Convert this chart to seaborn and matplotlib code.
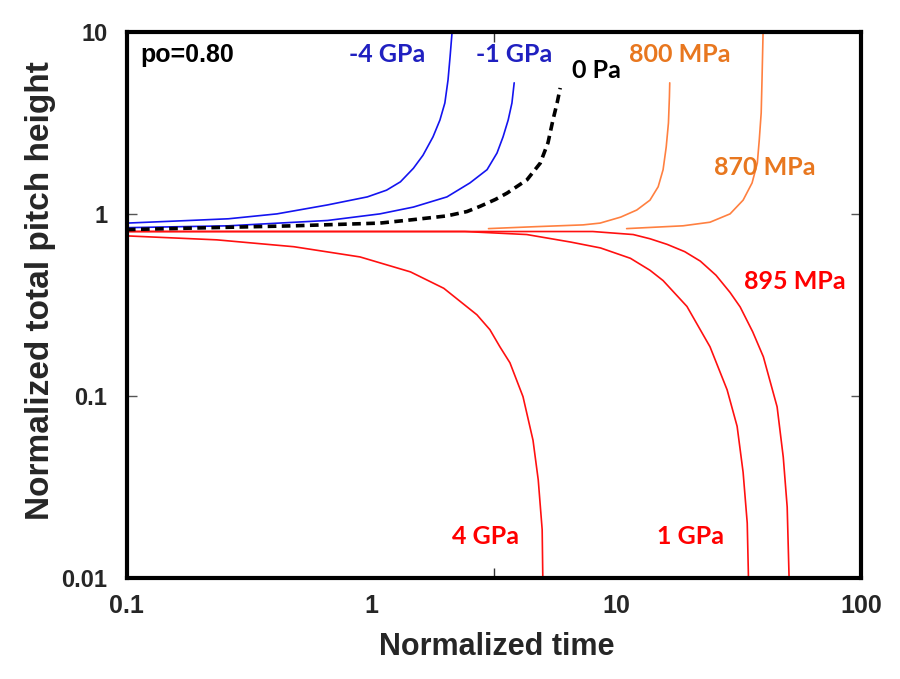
import matplotlib
matplotlib.use("Agg")
import matplotlib.pyplot as plt
import matplotlib.ticker as mticker
import seaborn as sns

# values: normalized time vs normalized total pitch height
neg4_t = [0.1, 0.18, 0.26, 0.41, 0.66, 0.96, 1.15, 1.31, 1.48, 1.62, 1.78, 1.90, 1.99, 2.05, 2.09, 2.13]
neg4_h = [0.89, 0.92, 0.94, 1.0, 1.12, 1.24, 1.35, 1.50, 1.78, 2.1, 2.65, 3.28, 4.07, 5.44, 7.3, 10.0]

neg1_t = [0.1, 0.26, 0.66, 1.08, 1.48, 2.03, 2.52, 2.96, 3.25, 3.44, 3.61, 3.74, 3.82]
neg1_h = [0.84, 0.86, 0.92, 1.0, 1.09, 1.24, 1.48, 1.75, 2.16, 2.65, 3.28, 4.07, 5.25]

zero_t = [0.1, 0.48, 1.08, 1.48, 2.03, 2.45, 2.77, 3.2, 3.57, 4.31, 4.88, 5.25, 5.5, 5.72, 5.89]
zero_h = [0.82, 0.86, 0.89, 0.93, 0.975, 1.03, 1.10, 1.20, 1.30, 1.54, 1.9, 2.46, 3.28, 4.07, 4.92]

p800_t = [3.0, 4.6, 7.3, 8.57, 10.4, 12.1, 13.7, 14.8, 15.5, 15.96, 16.3, 16.45, 16.5]
p800_h = [0.83, 0.85, 0.87, 0.89, 0.96, 1.05, 1.19, 1.41, 1.75, 2.33, 3.16, 4.4, 5.25]

p870_t = [11.0, 18.7, 24.1, 29.1, 32.9, 35.8, 37.6, 38.3, 39.0, 39.3, 39.7]
p870_h = [0.83, 0.86, 0.90, 1.0, 1.19, 1.48, 1.9, 2.55, 3.59, 5.44, 10.0]

p895_t = [0.1, 8.0, 11.7, 13.7, 16.1, 19.0, 22.0, 25.5, 29.1, 32.0, 36.0, 39.8, 45.3, 48.0, 49.8, 50.7]
p895_h = [0.80, 0.80, 0.77, 0.73, 0.68, 0.62, 0.55, 0.46, 0.37, 0.308, 0.225, 0.164, 0.087, 0.046, 0.0245, 0.01]

p1000_t = [0.1, 2.4, 4.3, 6.5, 8.6, 11.4, 13.7, 15.5, 19.4, 24.1, 28.3, 31.1, 32.9, 34.2, 34.6]
p1000_h = [0.80, 0.80, 0.77, 0.70, 0.65, 0.57, 0.49, 0.43, 0.31, 0.186, 0.108, 0.068, 0.038, 0.020, 0.01]

p4000_t = [0.1, 0.233, 0.481, 0.896, 1.44, 1.97, 2.69, 3.04, 3.34, 3.67, 4.15, 4.56, 4.79, 4.97, 5.0]
p4000_h = [0.757, 0.72, 0.66, 0.58, 0.48, 0.39, 0.279, 0.231, 0.186, 0.152, 0.099, 0.057, 0.0345, 0.0184, 0.01]

x_ticks = [0.1, 1, 10, 100]
x_ticklabels = ["0.1", "1", "10", "100"]
y_ticks = [0.01, 0.1, 1, 10]
y_ticklabels = ["0.01", "0.1", "1", "10"]

BLUE = "#1414f0"
ORANGE = "#ff8040"
RED = "#ff1010"

sns.set_style("white")
plt.rcParams["font.family"] = ["Liberation Sans", "DejaVu Sans"]

fig = plt.figure(figsize=(9, 6.79), dpi=100)
ax = fig.add_axes([0.141, 0.149, 0.816, 0.804])

# orange first, then red, blue and the dashed reference curve on top
for t, h, c in [(p800_t, p800_h, ORANGE), (p870_t, p870_h, ORANGE),
                (p895_t, p895_h, RED), (p1000_t, p1000_h, RED), (p4000_t, p4000_h, RED),
                (neg4_t, neg4_h, BLUE), (neg1_t, neg1_h, BLUE)]:
    sns.lineplot(x=t, y=h, ax=ax, color=c, lw=1.2, estimator=None, sort=False)
sns.lineplot(x=zero_t, y=zero_h, ax=ax, color="black", lw=2.6,
             linestyle=(0, (2.4, 1.5)), estimator=None, sort=False)

ax.set_xscale("log")
ax.set_yscale("log")
ax.set_xlim(0.1, 100)
ax.set_ylim(0.01, 10)

ax.xaxis.set_major_locator(mticker.FixedLocator(x_ticks))
ax.xaxis.set_major_formatter(mticker.FixedFormatter(x_ticklabels))
ax.xaxis.set_minor_locator(mticker.FixedLocator([10 ** 0.5]))
ax.yaxis.set_major_locator(mticker.FixedLocator(y_ticks))
ax.yaxis.set_major_formatter(mticker.FixedFormatter(y_ticklabels))
ax.yaxis.set_minor_locator(mticker.NullLocator())

ax.tick_params(axis="x", which="major", length=0, pad=12)
ax.tick_params(axis="x", which="minor", direction="in", length=7, width=1,
               color="#333333", top=True, bottom=True)
ax.tick_params(axis="y", which="major", direction="in", length=7, width=1,
               color="#555555", left=True, right=True, pad=14)
for lab in ax.get_xticklabels():
    lab.set_fontsize(18)
    lab.set_fontweight("bold")
for lab in ax.get_yticklabels():
    lab.set_fontsize(17)
    lab.set_fontweight("bold")

for sp in ax.spines.values():
    sp.set_visible(True)
    sp.set_color("black")
    sp.set_linewidth(3)

ax.set_xlabel("Normalized time", fontsize=22, fontweight="bold")
ax.xaxis.set_label_coords(0.504, -0.099)
ax.set_ylabel("Normalized total pitch height", fontsize=24, fontweight="bold")
ax.yaxis.set_label_coords(-0.097, 0.527)

ann = ["Lato", "DejaVu Sans"]
ax.text(0.018, 0.958, "po=0.80", transform=ax.transAxes, fontsize=18,
        fontweight="bold", ha="left", va="center", color="black")
labels = [
    ("-4 GPa", 0.354, 0.958, "#2020c0"),
    ("-1 GPa", 0.527, 0.958, "#2020c0"),
    ("0 Pa", 0.639, 0.930, "black"),
    ("800 MPa", 0.753, 0.958, "#e8771f"),
    ("870 MPa", 0.868, 0.751, "#e8771f"),
    ("895 MPa", 0.910, 0.542, "#ff0000"),
    ("4 GPa", 0.488, 0.075, "#ff0000"),
    ("1 GPa", 0.768, 0.075, "#ff0000"),
]
for txt, x, y, c in labels:
    ax.text(x, y, txt, transform=ax.transAxes, fontsize=18, fontweight="bold",
            family=ann, ha="center", va="center", color=c)

fig.savefig("out.png", dpi=100)
